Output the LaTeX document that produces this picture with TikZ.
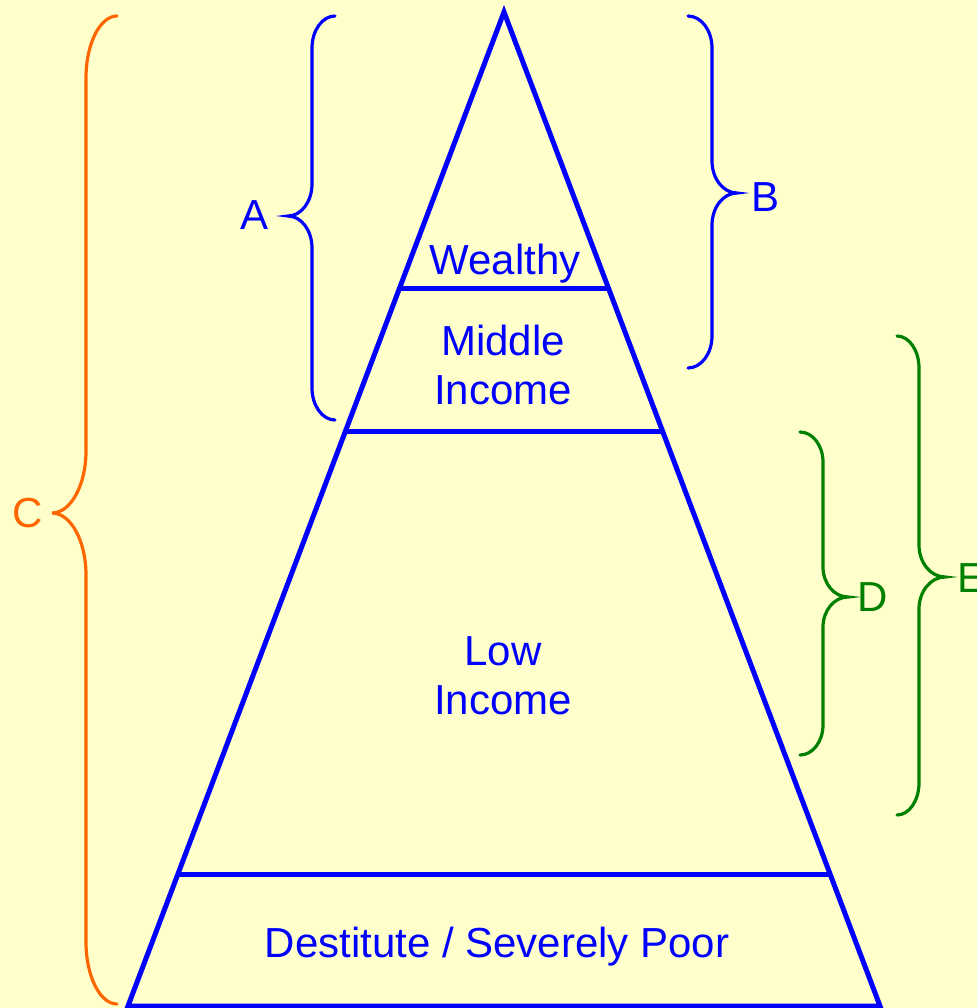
\documentclass[tikz,border=0pt]{standalone}
\usepackage{fontspec}
\setmainfont{Liberation Sans}
\usetikzlibrary{calc}
\definecolor{bg}{HTML}{FFFFCC}
\definecolor{pblue}{HTML}{0000FF}
\definecolor{porange}{HTML}{FF6600}
\definecolor{pgreen}{HTML}{008000}
% #1 style, #2 x end, #3 x bar, #4 x tip, #5 y top, #6 y tip, #7 y bottom, #8 radius
\newcommand\drawmybrace[8]{%
  \draw[#1] (#2,#5) .. controls ({#2+0.55*(#3-#2)},#5) and (#3,{#5+0.45*#8}) .. (#3,{#5+#8})
   -- (#3,{#6-#8}) .. controls (#3,{#6-0.45*#8}) and ({#4+0.55*(#3-#4)},#6) .. (#4,#6)
   .. controls ({#4+0.55*(#3-#4)},#6) and (#3,{#6+0.45*#8}) .. (#3,{#6+#8})
   -- (#3,{#7-#8}) .. controls (#3,{#7-0.45*#8}) and ({#2+0.55*(#3-#2)},#7) .. (#2,#7);}
\begin{document}
\begin{tikzpicture}[x=0.75pt,y=-0.75pt,
  tri/.style={draw=pblue,line width=3.75pt},
  brc/.style={line width=2.4pt,line cap=round},
  lbl/.style={font=\fontsize{31.5}{36.75}\selectfont,inner sep=0pt,align=center},
  tierlbl/.style={lbl,text=pblue}]
\fill[bg] (0,0) rectangle (977,1008);
\useasboundingbox (0,0) rectangle (977,1008);
% pyramid
\coordinate (apex) at (504,12);
\coordinate (bl) at (128,1006);
\coordinate (br) at (880,1006);
\draw[tri] (bl) -- (apex) -- (br) -- cycle;
\coordinate (w1) at ($(apex)!0.2777!(bl)$);
\coordinate (w2) at ($(apex)!0.2777!(br)$);
\coordinate (m1) at ($(apex)!0.4225!(bl)$);
\coordinate (m2) at ($(apex)!0.4225!(br)$);
\coordinate (l1) at ($(apex)!0.8672!(bl)$);
\coordinate (l2) at ($(apex)!0.8672!(br)$);
\draw[tri] (w1) -- (w2);
\draw[tri] (m1) -- (m2);
\draw[tri] (l1) -- (l2);
% tier labels
\node[tierlbl,anchor=base] (wealthy) at (505,274) {Wealthy};
\node[tierlbl] (middle) at (503,365) {Middle\\Income};
\node[tierlbl] (low) at (503,676) {Low\\Income};
\node[tierlbl,anchor=base] (dest) at (497,957) {Destitute / Severely Poor};
% braces
\drawmybrace{brc,pblue}{335}{312}{288}{16}{216}{420}{32}
\drawmybrace{brc,pblue}{688}{712}{737}{16}{193}{368}{32}
\drawmybrace{brc,porange}{117}{86}{52}{16}{513}{1004}{62}
\drawmybrace{brc,pgreen}{800}{823}{848}{432}{597}{755}{30}
\drawmybrace{brc,pgreen}{897}{919}{945}{336}{577}{815}{32}
% brace labels
\node[lbl,text=pblue] (A) at (255,215) {A};
\node[lbl,text=pblue] (B) at (766,197) {B};
\node[lbl,text=porange] (C) at (28,513) {C};
\node[lbl,text=pgreen] (D) at (873,597) {D};
\node[lbl,text=pgreen,anchor=base west] (E) at (957,592) {E};
\end{tikzpicture}
\end{document}
